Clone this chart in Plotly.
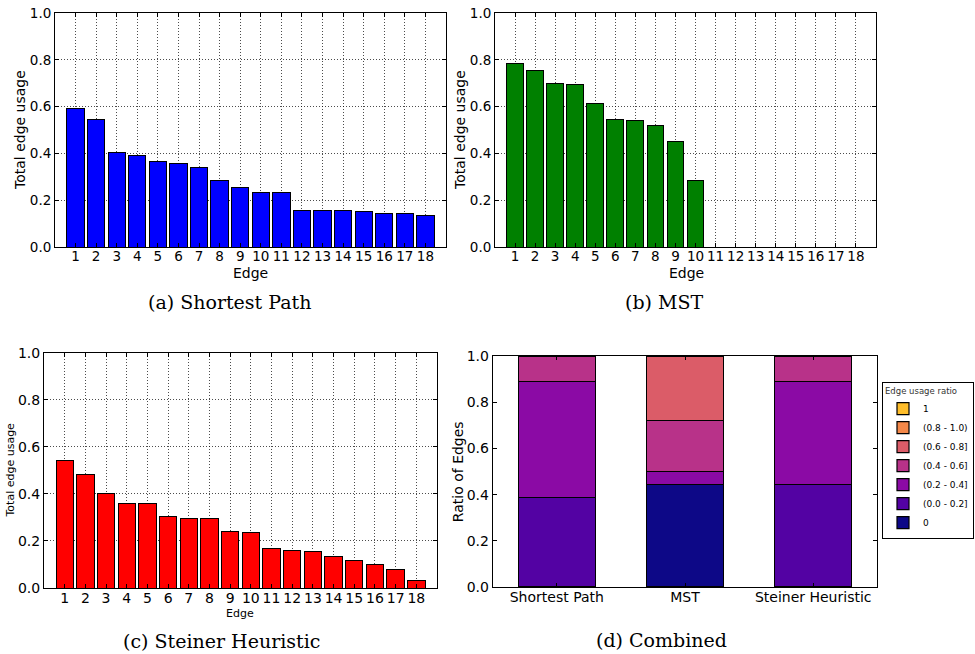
import plotly.graph_objects as go

W, H = 975, 654

edges = list(range(1, 19))
shortest_path = [0.590, 0.547, 0.406, 0.389, 0.365, 0.355, 0.338, 0.285, 0.255,
                 0.234, 0.232, 0.154, 0.154, 0.154, 0.151, 0.145, 0.142, 0.135]
mst = [0.786, 0.756, 0.699, 0.694, 0.613, 0.543, 0.541, 0.520, 0.452,
       0.283, 0, 0, 0, 0, 0, 0, 0, 0]
steiner = [0.540, 0.483, 0.402, 0.360, 0.358, 0.303, 0.295, 0.295, 0.242,
           0.234, 0.169, 0.161, 0.154, 0.136, 0.115, 0.099, 0.078, 0.031]

methods = ["Shortest Path", "MST", "Steiner Heuristic"]
bins = ["0", "(0.0 - 0.2]", "(0.2 - 0.4]", "(0.4 - 0.6]", "(0.6 - 0.8]", "(0.8 - 1.0)", "1"]
bin_colors = ["#0d0887", "#5302a3", "#8b0aa5", "#b83289", "#db5c68", "#f48849", "#febd2a"]
# ratio of edges per bin, per method (Shortest Path, MST, Steiner)
ratios = {
    "0":           [0.0,    8/18, 0.0],
    "(0.0 - 0.2]": [7/18,   0.0,  8/18],
    "(0.2 - 0.4]": [9/18,   1/18, 8/18],
    "(0.4 - 0.6]": [2/18,   4/18, 2/18],
    "(0.6 - 0.8]": [0.0,    5/18, 0.0],
    "(0.8 - 1.0)": [0.0,    0.0,  0.0],
    "1":           [0.0,    0.0,  0.0],
}

captions = ["(a) Shortest Path", "(b) MST", "(c) Steiner Heuristic", "(d) Combined"]

SANS = "DejaVu Sans"
SERIF = "DejaVu Serif"


def px_dom_x(a, b):
    return [a / W, b / W]


def px_dom_y(top, bottom):
    return [1 - bottom / H, 1 - top / H]


fig = go.Figure()

panels = [
    ("x", "y", shortest_path, "#0000ff"),
    ("x2", "y2", mst, "#008000"),
    ("x3", "y3", steiner, "#ff0000"),
]
for xa, ya, vals, col in panels:
    fig.add_trace(go.Bar(
        x=edges, y=vals, xaxis=xa, yaxis=ya, width=0.84,
        marker=dict(color=col, line=dict(color="black", width=1)),
        showlegend=False,
    ))

for b, c in zip(bins, bin_colors):
    fig.add_trace(go.Bar(
        x=methods, y=ratios[b], name=b, xaxis="x4", yaxis="y4", width=0.6,
        marker=dict(color=c, line=dict(color="black", width=1.2)),
    ))

common_axis = dict(
    showline=True, linecolor="black", linewidth=1, mirror="ticks",
    ticks="inside", ticklen=4, tickcolor="black", zeroline=False, automargin=False,
)
grid = dict(showgrid=True, gridcolor="rgba(0,0,0,0.7)", griddash="1px,2px", gridwidth=1)

def edge_x(dom, fs):
    return dict(domain=dom, range=[0, 19], tickmode="array", tickvals=edges,
                ticktext=[str(e) for e in edges], tickfont=dict(family=SANS, size=fs, color="black"),
                ticklabelstandoff=-3, **common_axis, **grid)

def usage_y(dom, fs):
    return dict(domain=dom, range=[0, 1], tickmode="array", tickvals=[0, 0.2, 0.4, 0.6, 0.8, 1.0],
                ticktext=["0.0", "0.2", "0.4", "0.6", "0.8", "1.0"],
                tickfont=dict(family=SANS, size=fs, color="black"), **common_axis, **grid)

dA_x, dA_y = px_dom_x(55, 446), px_dom_y(13, 247)
dB_x, dB_y = px_dom_x(495, 876), px_dom_y(13, 247)
dC_x, dC_y = px_dom_x(44, 437), px_dom_y(352.7, 588)
dD_x, dD_y = px_dom_x(492.7, 877.3), px_dom_y(356, 587)

fig.update_layout(
    width=W, height=H,
    margin=dict(l=0, r=0, t=0, b=0, autoexpand=False),
    paper_bgcolor="white", plot_bgcolor="white",
    barmode="stack",
    font=dict(family=SANS, color="black"),
    xaxis=dict(anchor="y", **edge_x(dA_x, 13.5)),
    yaxis=dict(anchor="x", **usage_y(dA_y, 13.5)),
    xaxis2=dict(anchor="y2", **edge_x(dB_x, 13.5)),
    yaxis2=dict(anchor="x2", **usage_y(dB_y, 13.5)),
    xaxis3=dict(anchor="y3", **edge_x(dC_x, 14)),
    yaxis3=dict(anchor="x3", **usage_y(dC_y, 14)),
    xaxis4=dict(anchor="y4", domain=dD_x, type="category", range=[-0.5, 2.5],
                tickfont=dict(family=SANS, size=14, color="black"), showgrid=False,
                ticklabelstandoff=-3, **common_axis),
    yaxis4=dict(anchor="x4", domain=dD_y, range=[0, 1], tickmode="array",
                tickvals=[0, 0.2, 0.4, 0.6, 0.8, 1.0],
                ticktext=["0.0", "0.2", "0.4", "0.6", "0.8", "1.0"],
                tickfont=dict(family=SANS, size=14, color="black"), showgrid=False, **common_axis),
    legend=dict(
        title=dict(text="Edge usage ratio", font=dict(family=SANS, size=8.5, color="#333")),
        font=dict(family=SANS, size=9, color="black"),
        traceorder="reversed",
        x=882 / W, xanchor="left", y=1 - 460.5 / H, yanchor="middle",
        bordercolor="black", borderwidth=1, bgcolor="white",
        itemwidth=30,
    ),
)

annots = []
# axis titles
for x, y, t, fs in [(250.5, 272.7, "Edge", 14), (686, 272.7, "Edge", 14), (240.3, 613, "Edge", 11)]:
    annots.append(dict(x=x / W, y=1 - y / H, xref="paper", yref="paper", text=t, showarrow=False,
                       xanchor="center", yanchor="middle", font=dict(family=SANS, size=fs, color="black")))
for x, y, t, fs in [(20, 130, "Total edge usage", 14), (460, 130, "Total edge usage", 14),
                    (10, 470.5, "Total edge usage", 11), (457.5, 471.7, "Ratio of Edges", 14)]:
    annots.append(dict(x=x / W, y=1 - y / H, xref="paper", yref="paper", text=t, showarrow=False,
                       textangle=-90, xanchor="center", yanchor="middle",
                       font=dict(family=SANS, size=fs, color="black")))
# captions
for x, y, t in [(229.7, 301.7, captions[0]), (664, 301.5, captions[1]),
                (221, 640.7, captions[2]), (661.7, 640, captions[3])]:
    annots.append(dict(x=x / W, y=1 - y / H, xref="paper", yref="paper", text=t, showarrow=False,
                       xanchor="center", yanchor="middle", font=dict(family=SERIF, size=19, color="black")))
fig.update_layout(annotations=annots)

fig.write_html("out.html", config={"displayModeBar": False},
               post_script="document.body.style.margin='0';document.body.style.overflow='hidden';")
